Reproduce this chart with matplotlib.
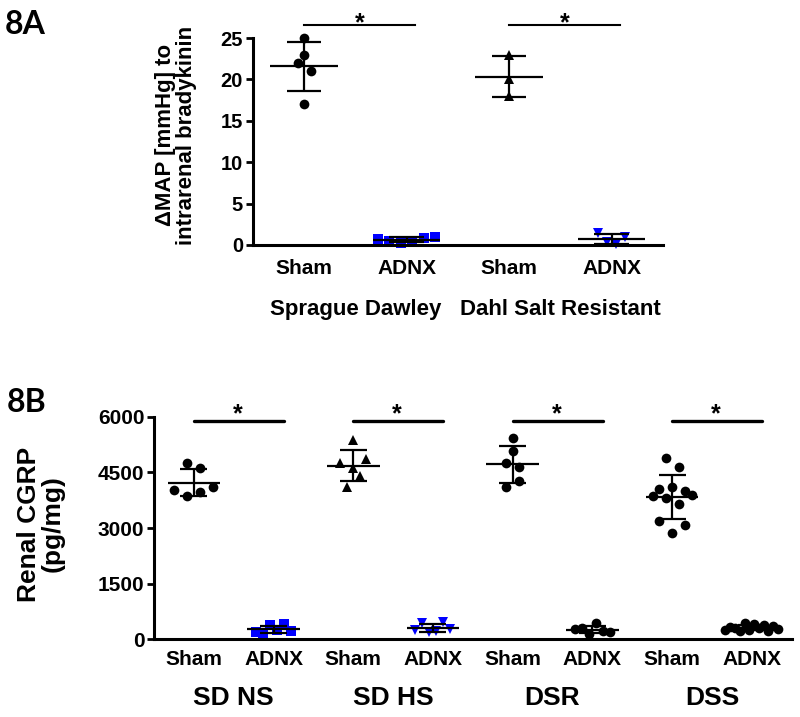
import numpy as np
import matplotlib.pyplot as plt

plt.rcParams["font.family"] = ["Liberation Sans", "DejaVu Sans"]
plt.rcParams["font.weight"] = "bold"

# ---- panel A: change in MAP (mmHg) to intrarenal bradykinin ----
a_ticks = ["Sham", "ADNX", "Sham", "ADNX"]
a_strains = ["Sprague Dawley", "Dahl Salt Resistant"]
a_sd_sham = [25.0, 23.0, 22.0, 21.0, 17.0]
a_sd_adnx = [0.7, 0.5, 0.2, 0.5, 0.9, 1.0]
a_dsr_sham = [23.0, 20.0, 18.0]
a_dsr_adnx = [1.5, 0.4, 0.1, 1.0]
a_yticks = [0, 5, 10, 15, 20, 25]

# ---- panel B: renal CGRP (pg/mg) ----
b_ticks = ["Sham", "ADNX"] * 4
b_groups = ["SD NS", "SD HS", "DSR", "DSS"]
b_sdns_sham = [4744, 4609, 4024, 3862, 3978, 4113]
b_sdns_adnx = [200, 150, 380, 250, 410, 220]
b_sdhs_sham = [5372, 4744, 4609, 4868, 4113, 4402]
b_sdhs_adnx = [250, 440, 210, 230, 460, 270]
b_dsr_sham = [5434, 5075, 4760, 4636, 4113, 4275]
b_dsr_adnx = [280, 300, 150, 430, 230, 200]
b_dss_sham = [4895, 4652, 4043, 4097, 4000, 3862, 3800, 3647, 3889, 3197, 2873, 3081]
b_dss_adnx = [260, 330, 300, 230, 430, 250, 420, 300, 380, 220, 360, 280]
b_yticks = [0, 1500, 3000, 4500, 6000]

BLUE = "#0000ff"
ROW_PX = 13  # vertical band (pixels) that shares one row of the dot plot


def swarm_x(ax, x0, vals, maxw):
    """Prism-like column scatter: points closer than ROW_PX vertically share a row
    and are spread sideways, centred on the group position."""
    n = len(vals)
    y_px = ax.transData.transform(np.column_stack([np.full(n, x0), vals]))[:, 1]
    order = np.argsort(y_px, kind="stable")
    rows, cur, start = [], [order[0]], y_px[order[0]]
    for i in order[1:]:
        if y_px[i] - start < ROW_PX:
            cur.append(i)
        else:
            rows.append(cur)
            cur, start = [i], y_px[i]
    rows.append(cur)
    px_per_unit = ax.transData.transform((1, 0))[0] - ax.transData.transform((0, 0))[0]
    step = ROW_PX / px_per_unit
    xs = np.full(n, float(x0))
    for row in rows:
        row = sorted(row)
        k = len(row)
        s = min(step, 2 * maxw / (k - 1)) if k > 1 else step
        for j, i in enumerate(row):
            xs[i] = x0 + (j - (k - 1) / 2) * s
    return xs


def scatter_group(ax, x0, vals, marker, color, maxw=0.4, ms=7):
    xs = swarm_x(ax, x0, vals, maxw)
    ax.plot(xs, vals, linestyle="none", marker=marker, color=color, ms=ms,
            markeredgewidth=0, clip_on=False, zorder=2)
    m, s = np.mean(vals), np.std(vals, ddof=1)
    ax.hlines(m, x0 - 0.33, x0 + 0.33, color="black", lw=1.6, zorder=3, clip_on=False)
    ax.hlines([m - s, m + s], x0 - 0.17, x0 + 0.17, color="black", lw=1.6, zorder=3, clip_on=False)
    ax.vlines(x0, m - s, m + s, color="black", lw=1.6, zorder=3, clip_on=False)


def style_axes(ax, yticks, tick_fs):
    ax.spines[["top", "right"]].set_visible(False)
    for sp in ["left", "bottom"]:
        ax.spines[sp].set_linewidth(2.2)
    ax.set_yticks(yticks)
    ax.tick_params(axis="y", length=5, width=2, labelsize=tick_fs, pad=2)
    ax.tick_params(axis="x", length=0, pad=10)


fig = plt.figure(figsize=(8, 7.17), dpi=100)

# panel A
axA = fig.add_axes([0.316, 0.6583, 0.5125, 0.2887])
axA.set_xlim(0.5, 4.5)
axA.set_ylim(0, 25)
style_axes(axA, a_yticks, 14.5)
axA.set_xticks([1, 2, 3, 4])
axA.set_xticklabels(a_ticks, fontsize=15)
scatter_group(axA, 1, a_sd_sham, "o", "black")
scatter_group(axA, 2, a_sd_adnx, "s", BLUE, maxw=0.28)
scatter_group(axA, 3, a_dsr_sham, "^", "black")
scatter_group(axA, 4, a_dsr_adnx, "v", BLUE, maxw=0.13)
for i, name in enumerate(a_strains):
    xc = 1.5 + 2 * i
    axA.text(xc, -0.31, name, transform=axA.get_xaxis_transform(), ha="center",
             va="center", fontsize=16)
    axA.plot([xc - 0.5, xc + 0.58], [26.6, 26.6], color="black", lw=1.5, clip_on=False)
    axA.text(xc + 0.04, 25.9, "*", ha="center", va="baseline", fontsize=18)
fig.text(176 / 800, 1 - 135 / 717, "\u0394MAP [mmHg] to\nintrarenal bradykinin",
         rotation=90, ha="center", va="center", fontsize=16, linespacing=0.95)
fig.text(5 / 800, 1 - 25 / 717, "8A", fontsize=23, family=["Lato", "DejaVu Sans"],
         fontweight="bold", va="center", ha="left")

# panel B
axB = fig.add_axes([0.1925, 0.1083, 0.797, 0.3105])
axB.set_xlim(0.5, 8.5)
axB.set_ylim(0, 6000)
style_axes(axB, b_yticks, 15)
axB.set_xticks(range(1, 9))
axB.set_xticklabels(b_ticks, fontsize=15)
axB.tick_params(axis="x", pad=8)
b_sets = [
    (b_sdns_sham, "o", "black", 0.4), (b_sdns_adnx, "s", BLUE, 0.22),
    (b_sdhs_sham, "^", "black", 0.4), (b_sdhs_adnx, "v", BLUE, 0.22),
    (b_dsr_sham, "o", "black", 0.4), (b_dsr_adnx, "o", "black", 0.22),
    (b_dss_sham, "o", "black", 0.4), (b_dss_adnx, "o", "black", 0.33),
]
for j, (vals, mk, col, mw) in enumerate(b_sets):
    scatter_group(axB, j + 1, vals, mk, col, maxw=mw)
for i, name in enumerate(b_groups):
    xc = 1.5 + 2 * i
    axB.text(xc, -0.265, name, transform=axB.get_xaxis_transform(), ha="center",
             va="center", fontsize=19)
    axB.plot([xc - 0.5, xc + 0.63], [5884, 5884], color="black", lw=2.4,
             solid_capstyle="round", clip_on=False)
    axB.text(xc + 0.05, 5880, "*", ha="center", va="baseline", fontsize=18)
fig.text(41 / 800, 1 - 524 / 717, "Renal CGRP\n(pg/mg)", rotation=90, ha="center",
         va="center", fontsize=19, linespacing=1.0)
fig.text(7 / 800, 1 - 402 / 717, "8B", fontsize=23, family=["Lato", "DejaVu Sans"],
         fontweight="bold", va="center", ha="left")

fig.savefig("out.png", dpi=100)
